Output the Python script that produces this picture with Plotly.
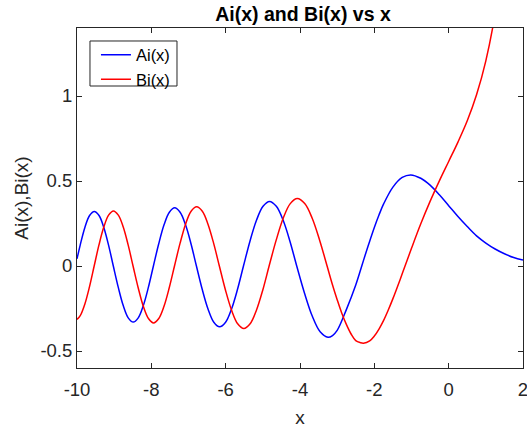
import plotly.graph_objects as go

# Values (Ai and Bi curves)
ai_x = [-10.0, -9.914, -9.788, -9.661, -9.535, -9.407, -9.279, -9.151, -9.023,
        -8.889, -8.756, -8.622, -8.488, -8.352, -8.216, -8.080, -7.944,
        -7.801, -7.658, -7.515, -7.372, -7.226, -7.080, -6.933, -6.787,
        -6.631, -6.475, -6.319, -6.163, -6.002, -5.842, -5.681, -5.521,
        -5.346, -5.171, -4.995, -4.820, -4.637, -4.454, -4.271, -4.088,
        -3.878, -3.668, -3.458, -3.248, -3.125, -3.0, -2.75, -2.5, -2.338,
        -2.25, -2.125, -2.0, -1.875, -1.75, -1.5, -1.25, -1.019, -0.75, -0.5,
        -0.25, 0.0, 0.25, 0.5, 0.75, 1.0, 1.25, 1.5, 1.75, 2.0]
ai_y = [0.042, 0.123, 0.227, 0.297, 0.321, 0.297, 0.227, 0.123, 0.0,
        -0.126, -0.233, -0.305, -0.330, -0.305, -0.233, -0.126, 0.0,
        0.131, 0.242, 0.316, 0.342, 0.316, 0.242, 0.131, 0.0,
        -0.137, -0.253, -0.331, -0.358, -0.331, -0.253, -0.137, 0.0,
        0.146, 0.269, 0.351, 0.380, 0.351, 0.269, 0.146, 0.0,
        -0.160, -0.296, -0.387, -0.419, -0.409, -0.379, -0.255, -0.112, 0.0,
        0.062, 0.146, 0.227, 0.300, 0.365, 0.464, 0.521, 0.536, 0.516, 0.476,
        0.419, 0.355, 0.291, 0.232, 0.177, 0.135, 0.100, 0.072, 0.050, 0.035]

bi_x = [-10.0, -9.913, -9.788, -9.663, -9.538, -9.409, -9.279, -9.150, -9.020,
        -8.888, -8.756, -8.624, -8.492, -8.354, -8.216, -8.078, -7.940,
        -7.799, -7.659, -7.518, -7.377, -7.228, -7.079, -6.930, -6.781,
        -6.628, -6.476, -6.323, -6.170, -6.006, -5.841, -5.677, -5.512,
        -5.342, -5.172, -5.001, -4.831, -4.641, -4.452, -4.262, -4.073,
        -3.873, -3.672, -3.472, -3.271, -3.135, -3.0, -2.875, -2.75, -2.625,
        -2.5, -2.375, -2.294, -2.125, -2.0, -1.875, -1.75, -1.625, -1.5, -1.3,
        -1.174, -1.0, -0.75, -0.5, -0.25, 0.0, 0.25, 0.5, 0.75, 1.0, 1.25, 1.5, 2.0]
bi_y = [-0.314, -0.292, -0.223, -0.121, 0.0, 0.124, 0.229, 0.299, 0.324,
        0.299, 0.229, 0.124, 0.0, -0.128, -0.237, -0.309, -0.335,
        -0.309, -0.237, -0.128, 0.0, 0.133, 0.246, 0.322, 0.348,
        0.322, 0.246, 0.133, 0.0, -0.141, -0.260, -0.340, -0.368,
        -0.340, -0.260, -0.141, 0.0, 0.152, 0.281, 0.367, 0.397,
        0.367, 0.281, 0.152, 0.0, -0.104, -0.198, -0.278, -0.345, -0.400,
        -0.439, -0.451, -0.454, -0.440, -0.412, -0.371, -0.32, -0.259, -0.192, -0.076,
        0.0, 0.104, 0.248, 0.380, 0.501, 0.615, 0.729, 0.854, 1.007, 1.207, 1.484, 1.879, 3.298]

x_ticks = [-10, -8, -6, -4, -2, 0, 2]
x_ticktext = ["-10", "-8", "-6", "-4", "-2", "0", "2"]
y_ticks = [-0.5, 0, 0.5, 1]
y_ticktext = ["-0.5", "0", "0.5", "1"]

FONT = "Liberation Sans, Arial, sans-serif"
AXC = "#262626"

fig = go.Figure()
fig.add_trace(go.Scatter(x=ai_x, y=ai_y, mode="lines", name="Ai(x)",
                         line=dict(color="#0000ff", width=1.5, shape="spline", smoothing=1.0)))
fig.add_trace(go.Scatter(x=bi_x, y=bi_y, mode="lines", name="Bi(x)",
                         line=dict(color="#ff0000", width=1.5, shape="spline", smoothing=1.0)))

# legend frame (paper coords of the plot area)
fig.add_shape(type="rect", xref="paper", yref="paper",
              x0=0.0291, x1=0.2242, y0=0.8294, y1=0.9618,
              fillcolor="white", line=dict(color=AXC, width=1), layer="above")

fig.update_layout(
    width=527, height=431,
    margin=dict(l=77, r=4, t=28, b=63, autoexpand=False),
    paper_bgcolor="white", plot_bgcolor="white",
    font=dict(family=FONT, color=AXC, size=18),
    title=dict(text="<b>Ai(x) and Bi(x) vs x</b>", x=303/527, xref="container", xanchor="center",
               y=1 - 14/431, yref="container", yanchor="middle",
               font=dict(family=FONT, size=19.5, color="#000000")),
    showlegend=True,
    legend=dict(x=0.0425, y=0.972, xanchor="left", yanchor="top",
                bgcolor="rgba(0,0,0,0)", borderwidth=0, itemwidth=30,
                font=dict(family=FONT, size=16.5, color="#000000"),
                tracegroupgap=0),
    xaxis=dict(range=[-10, 2], tickvals=x_ticks, ticktext=x_ticktext,
               ticks="inside", ticklen=5, tickwidth=1, tickcolor=AXC,
               showline=True, linecolor=AXC, linewidth=1, mirror="ticks",
               showgrid=False, zeroline=False, ticklabeloverflow="allow",
               ticklabelstandoff=5, automargin=False,
               tickfont=dict(family=FONT, size=18.5, color=AXC),
               title=dict(text="x", font=dict(family=FONT, size=19, color=AXC), standoff=11)),
    yaxis=dict(range=[-0.6, 1.4], tickvals=y_ticks, ticktext=y_ticktext,
               ticks="inside", ticklen=5, tickwidth=1, tickcolor=AXC,
               showline=True, linecolor=AXC, linewidth=1, mirror="ticks",
               showgrid=False, zeroline=False, automargin=False,
               tickfont=dict(family=FONT, size=18.5, color=AXC),
               title=dict(text="Ai(x),Bi(x)", font=dict(family=FONT, size=19, color=AXC), standoff=6)),
)

fig.write_html("out.html")
